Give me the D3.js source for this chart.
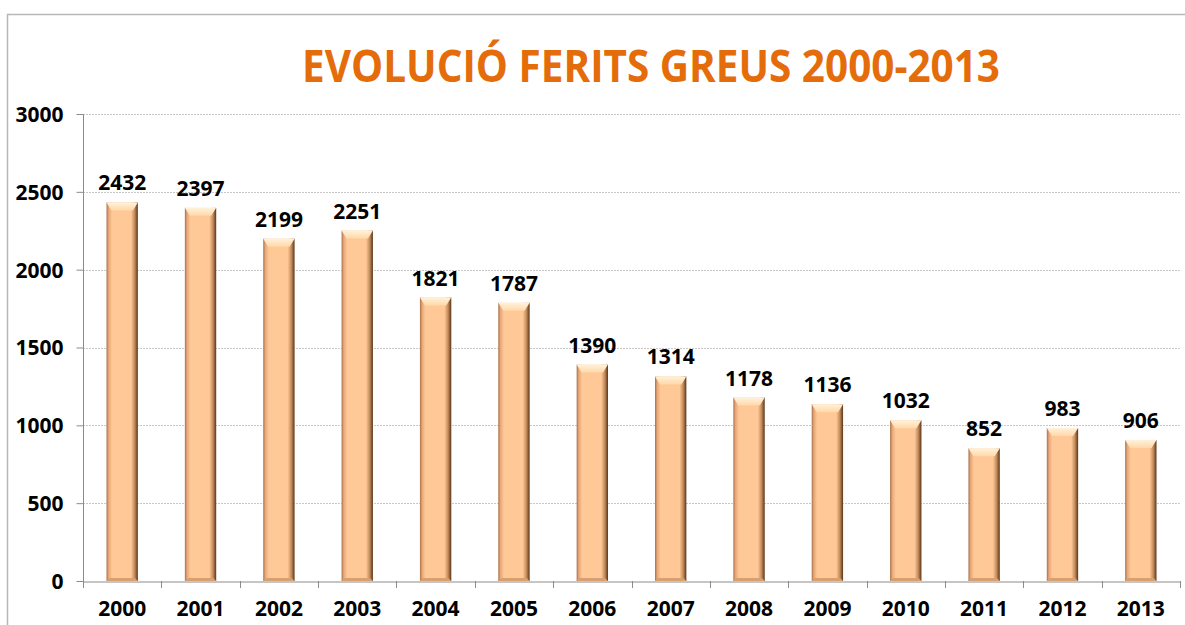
<!DOCTYPE html>
<html><head><meta charset="utf-8">
<script src="https://cdn.jsdelivr.net/npm/d3@7"></script>
<style>body{margin:0;background:#fff;}svg{display:block;}</style>
</head><body>
<svg id="c" width="1185" height="625"></svg>
<script>
const years = ["2000","2001","2002","2003","2004","2005","2006","2007","2008","2009","2010","2011","2012","2013"];
const values = [2432,2397,2199,2251,1821,1787,1390,1314,1178,1136,1032,852,983,906];
const yTicks = [0,500,1000,1500,2000,2500,3000];
const title = "EVOLUCIÓ FERITS GREUS 2000-2013";

const svg = d3.select("#c");
const font = "'Open Sans', 'DejaVu Sans', sans-serif";
const L = 83, R = 1180, T = 114, B = 581;

// chart frame
svg.append("path").attr("d", "M7.5,625 V14.5 H1185").attr("fill","none").attr("stroke","#b8b8b8").attr("stroke-width",1.5);

const defs = svg.append("defs");
const g1 = defs.append("linearGradient").attr("id","barH").attr("x1","0").attr("x2","1").attr("y1","0").attr("y2","0");
[[0,"#a87048"],[0.07,"#e8a878"],[0.18,"#ffc898"],[0.78,"#ffc896"],[0.9,"#c08a5a"],[1,"#5a3418"]].forEach(([o,c])=>g1.append("stop").attr("offset",o).attr("stop-color",c));
const g2 = defs.append("linearGradient").attr("id","cap").attr("x1","0").attr("x2","0").attr("y1","0").attr("y2","1");
[[0,"#fff2dc"],[1,"#ffd8a8"]].forEach(([o,c])=>g2.append("stop").attr("offset",o).attr("stop-color",c));

const x = d3.scaleBand().domain(years).range([L,R]).paddingInner(0.6).paddingOuter(0.3);
const y = d3.scaleLinear().domain([0,3000]).range([B,T]);

// gridlines
svg.append("g").selectAll("line").data(yTicks.filter(d=>d>0)).join("line")
  .attr("x1",L).attr("x2",R).attr("y1",d=>Math.round(y(d))+0.5).attr("y2",d=>Math.round(y(d))+0.5)
  .attr("stroke","#c8c8c8").attr("stroke-dasharray","2,1");

// y axis
const ya = svg.append("g").attr("transform",`translate(${L+0.5},0)`)
  .call(d3.axisLeft(y).tickValues(yTicks).tickFormat(d3.format("d")).tickSize(7).tickPadding(13));
ya.select(".domain").attr("stroke","#8c8c8c").attr("d",`M0,${T}V${B}`);
ya.selectAll(".tick line").attr("stroke","#8c8c8c");
ya.selectAll(".tick text").attr("font-family",font).attr("font-weight","bold").attr("font-size",21).attr("fill","#000").attr("dy","0.35em");

// x axis
const xa = svg.append("g").attr("transform",`translate(0,${B+0.5})`)
  .call(d3.axisBottom(x).tickSize(0).tickPadding(20));
xa.select(".domain").attr("stroke","#8c8c8c");
xa.selectAll(".tick text").attr("font-family",font).attr("font-weight","bold").attr("font-size",21).attr("fill","#000");
// category separators
svg.append("g").selectAll("line").data(d3.range(years.length+1)).join("line")
  .attr("x1",i=>Math.round(L + i*(R-L)/years.length)+0.5).attr("x2",i=>Math.round(L + i*(R-L)/years.length)+0.5)
  .attr("y1",B).attr("y2",B+7).attr("stroke","#8c8c8c");

// bars
const bars = svg.append("g").selectAll("g").data(values).join("g");
bars.append("rect")
  .attr("x",(d,i)=>x(years[i])).attr("width",x.bandwidth())
  .attr("y",d=>y(d)).attr("height",d=>B-y(d))
  .attr("fill","url(#barH)");
bars.append("path")
  .attr("d",(d,i)=>{const x0=x(years[i]), w=x.bandwidth(), y0=y(d), h=8;
    return `M${x0},${y0}H${x0+w}L${x0+w-5},${y0+h}H${x0+5}Z`;})
  .attr("fill","url(#cap)");
bars.append("path")
  .attr("d",(d,i)=>{const x0=x(years[i]), w=x.bandwidth(), h=3;
    return `M${x0},${B}H${x0+w}L${x0+w-3},${B-h}H${x0+3}Z`;})
  .attr("fill","#d8a070");

// value labels
svg.append("g").selectAll("text").data(values).join("text")
  .attr("x",(d,i)=>x(years[i])+x.bandwidth()/2).attr("y",d=>y(d)-12)
  .attr("text-anchor","middle").attr("font-family",font).attr("font-weight","bold").attr("font-size",21)
  .text(d=>d);

// title
svg.append("text").attr("x",651).attr("y",82).attr("text-anchor","middle")
  .attr("font-family",font).attr("font-weight","bold").attr("font-size",45).attr("fill","#E46C0A")
  .attr("textLength",698).attr("lengthAdjust","spacingAndGlyphs").text(title);
</script>
</body></html>
